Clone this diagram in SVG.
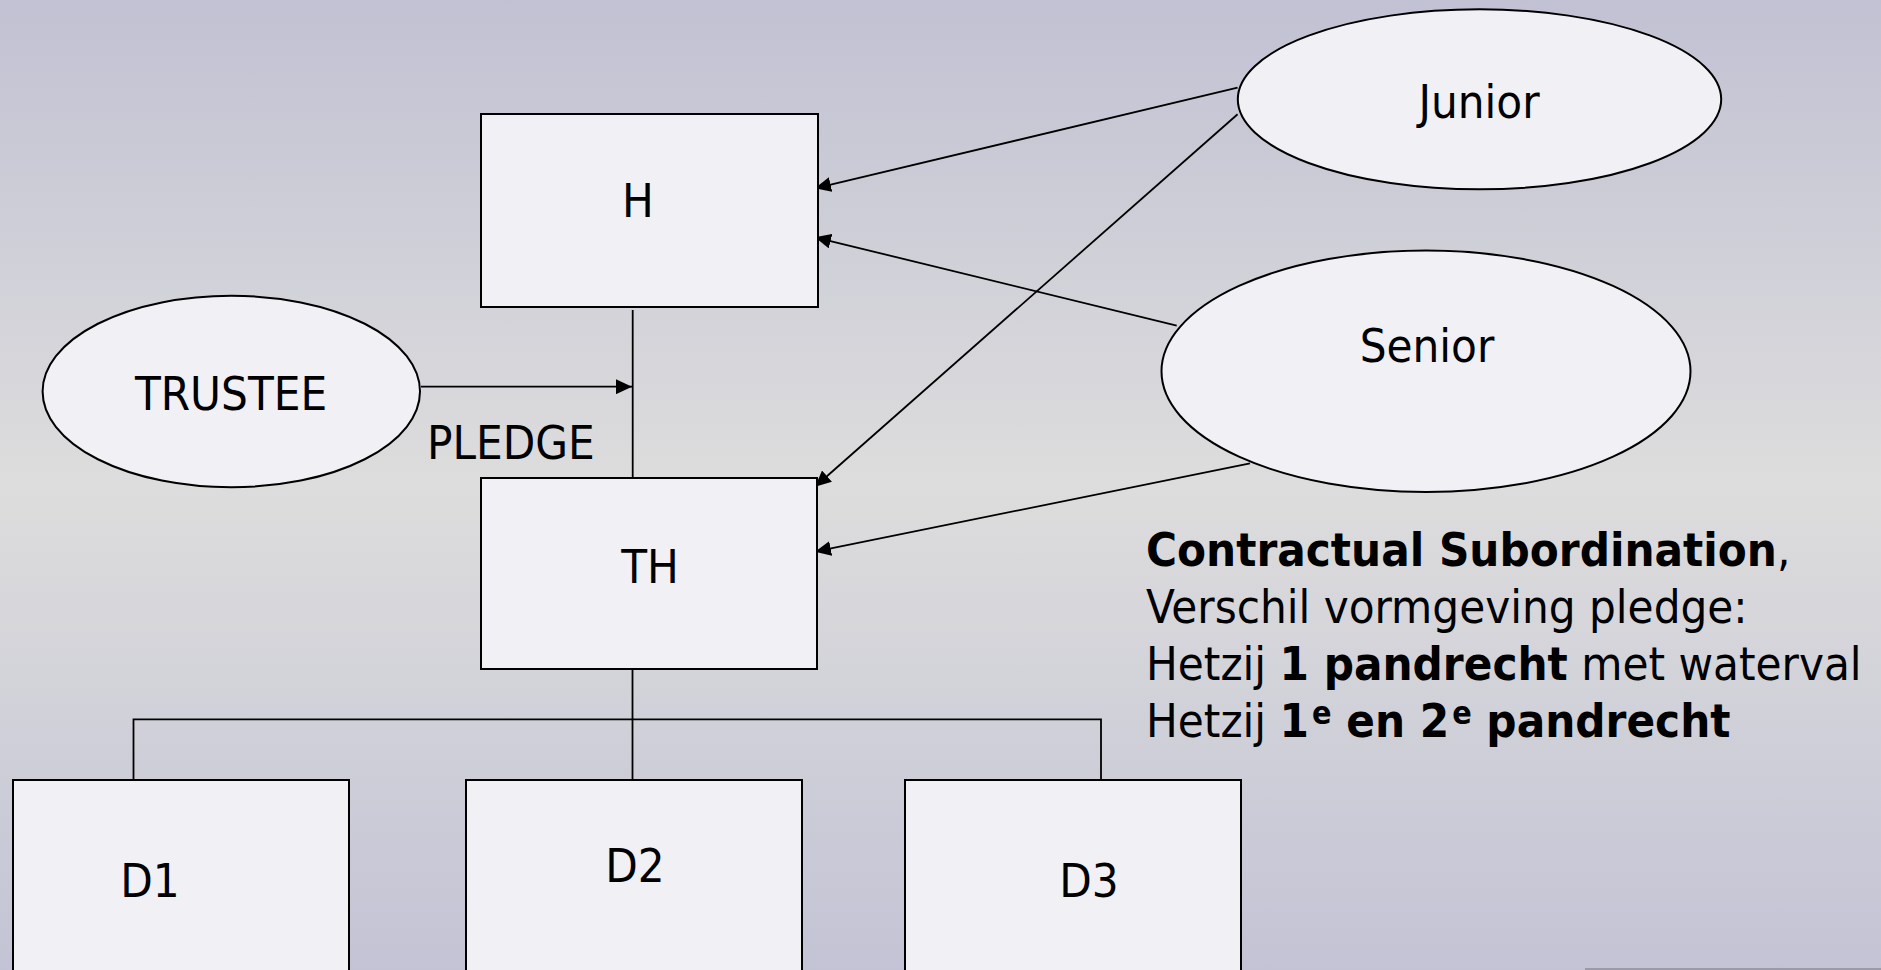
<svg xmlns="http://www.w3.org/2000/svg" width="1881" height="970" viewBox="0 0 1881 970">
  <defs>
    <linearGradient id="bg" x1="0" y1="0" x2="0" y2="1">
      <stop offset="0" stop-color="#c1c1d3"/>
      <stop offset="0.5" stop-color="#dddddd"/>
      <stop offset="1" stop-color="#c3c3d5"/>
    </linearGradient>
    <marker id="arrow" markerUnits="userSpaceOnUse" markerWidth="17" markerHeight="15" refX="16" refY="7.5" orient="auto">
      <path d="M0,0 L16,7.5 L0,15 z" fill="#000"/>
    </marker>
    <style>
      .shape { fill: #f0f0f5; stroke: #000; stroke-width: 2; }
      .line { fill: none; stroke: #000; stroke-width: 1.8; }
      .arr { fill: none; stroke: #000; stroke-width: 1.8; marker-end: url(#arrow); }
      text { font-family: "DejaVu Sans Condensed", "DejaVu Sans", sans-serif; font-stretch: condensed; font-size: 47px; fill: #000; }
      .mid { text-anchor: middle; }
      .b { font-weight: bold; }
      .sup { font-size: 32px; }
    </style>
  </defs>

  <rect x="0" y="0" width="1881" height="970" fill="url(#bg)"/>
  <rect x="1585" y="968" width="296" height="2" fill="#9a9aa8"/>

  <!-- connectors -->
  <g id="connectors">
    <line class="line" x1="632.7" y1="310" x2="632.7" y2="478"/>
    <line class="arr" x1="421" y1="386.7" x2="632" y2="386.7"/>
    <line class="arr" x1="1237.6" y1="87.7" x2="815" y2="188.3"/>
    <line class="arr" x1="1237.6" y1="114.3" x2="815" y2="486.7"/>
    <line class="arr" x1="1176.7" y1="325.7" x2="815" y2="237.3"/>
    <line class="arr" x1="1250" y1="463.3" x2="815" y2="551.7"/>
    <line class="line" x1="632.5" y1="659" x2="632.5" y2="780"/>
    <polyline class="line" points="133.5,780 133.5,719.3 1101,719.3 1101,780"/>
  </g>

  <g id="node-H">
    <rect class="shape" x="481" y="114" width="337" height="193"/>
    <text class="mid" x="638" y="217">H</text>
  </g>

  <g id="node-TH">
    <rect class="shape" x="481" y="478" width="336" height="191"/>
    <text class="mid" x="650" y="583">TH</text>
  </g>

  <g id="node-trustee">
    <ellipse class="shape" cx="231.3" cy="391.5" rx="188.7" ry="95.8"/>
    <text class="mid" x="231" y="410">TRUSTEE</text>
  </g>

  <g id="label-pledge">
    <text x="427" y="459">PLEDGE</text>
  </g>

  <g id="node-junior">
    <ellipse class="shape" cx="1479.5" cy="99.3" rx="241.7" ry="90"/>
    <text class="mid" x="1479" y="118">Junior</text>
  </g>

  <g id="node-senior">
    <ellipse class="shape" cx="1426" cy="371.3" rx="264.5" ry="120.7"/>
    <text class="mid" x="1427" y="362">Senior</text>
  </g>

  <g id="node-D1">
    <rect class="shape" x="13" y="780" width="336" height="200"/>
    <text class="mid" x="150" y="897">D1</text>
  </g>

  <g id="node-D2">
    <rect class="shape" x="466" y="780" width="336" height="200"/>
    <text class="mid" x="635" y="882">D2</text>
  </g>

  <g id="node-D3">
    <rect class="shape" x="905" y="780" width="336" height="200"/>
    <text class="mid" x="1089" y="897">D3</text>
  </g>

  <g id="note">
    <text x="1146" y="566"><tspan class="b">Contractual Subordination</tspan>,</text>
    <text x="1146" y="623">Verschil vormgeving pledge:</text>
    <text x="1146" y="680">Hetzij <tspan class="b">1 pandrecht</tspan> met waterval</text>
    <text x="1146" y="737">Hetzij <tspan class="b">1<tspan class="sup" dx="3" dy="-13">e</tspan><tspan dy="13"> en 2</tspan><tspan class="sup" dx="3" dy="-13">e</tspan><tspan dy="13"> pandrecht</tspan></tspan></text>
  </g>
</svg>
